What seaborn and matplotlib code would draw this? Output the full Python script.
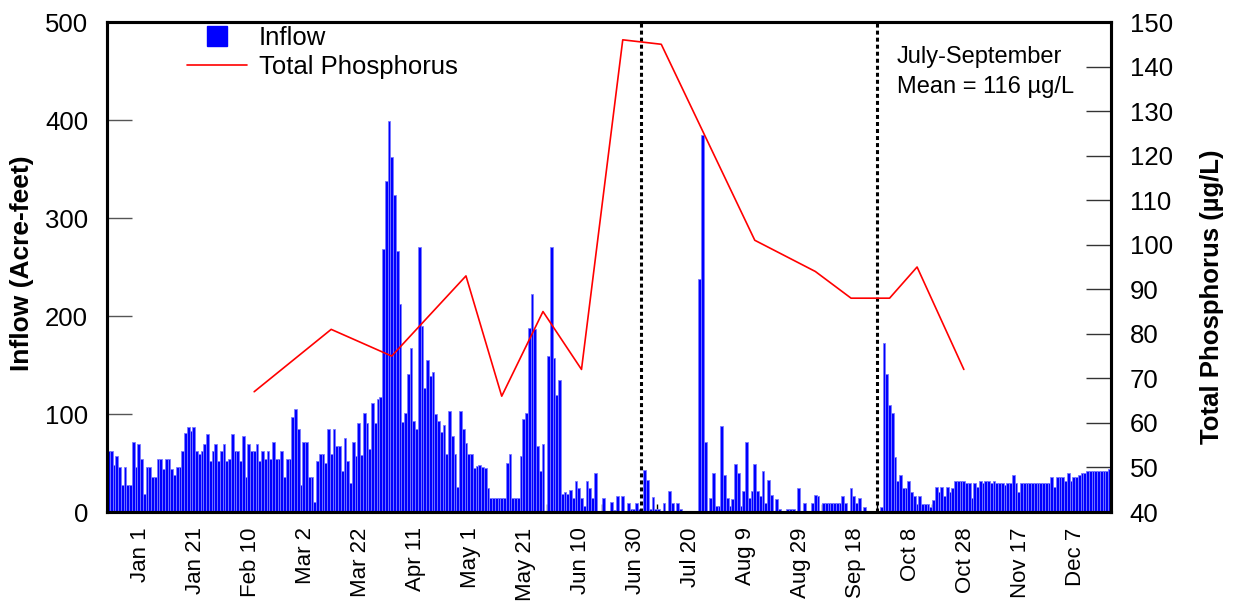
import numpy as np
import pandas as pd
import matplotlib
matplotlib.use("Agg")
import matplotlib.pyplot as plt
import seaborn as sns
from matplotlib.lines import Line2D
from matplotlib.ticker import FixedLocator, MultipleLocator

# Daily inflow (acre-feet), one value per day, grouped by season
inflow_winter = [
    62, 62, 48, 57, 46, 28, 46, 28, 28, 71, 46, 69, 54, 18, 46, 46, 36, 36, 54, 54,
    44, 54, 54, 44, 38, 46, 46, 62, 81, 87, 83, 87, 62, 59, 62, 69, 80, 52, 62, 69,
    52, 62, 69, 52, 54, 80, 62, 62, 52, 78, 36, 69, 62, 62, 69, 52, 62, 54, 62, 54,
    71, 54, 54, 62, 36, 54, 54, 97, 105, 85, 28, 71, 71, 36, 36, 10, 52, 59, 59, 50,
    85, 59, 85, 67, 67, 42, 76, 52, 30, 71, 57, 91,
]
inflow_spring_runoff = [
    58, 101, 91, 64, 111, 91, 115, 117,
    268, 338, 399, 362, 323, 266, 212, 92, 101, 141, 167, 93, 85, 270, 190, 127, 155, 139, 143,
    100, 93, 82, 89, 59, 103, 78, 59, 26, 103, 85, 70, 59,
    59, 45, 47, 48, 46, 45, 25,
]
inflow_early_summer = [
    14, 14, 14, 14, 14, 14,
    50, 59, 14, 14, 14,
    57, 95, 101, 188, 222, 187, 67, 42, 69, 0, 159, 270, 157, 119, 135,
    18, 20, 18, 22, 14, 32, 24, 14, 6, 32, 24, 14, 40, 0, 0, 14, 0, 0, 10, 2, 16,
    0, 16, 0, 9, 3, 3, 9, 3, 0,
]
inflow_summer = [
    43, 33, 3, 15, 3, 3, 1, 9, 0, 21, 9, 0, 9, 3, 0, 0, 0, 0, 0, 0,
    238, 385, 71, 0, 14, 40, 6, 6, 88, 38, 14, 6, 13, 49, 40, 6, 21, 71, 14, 21,
    49, 21, 16, 42, 9, 33, 17, 0, 13, 3, 1, 1, 3, 3, 3, 0,
    24, 0, 9, 0, 0, 9, 17, 16, 0, 9, 9, 9, 9, 9, 9, 9, 16, 9, 0, 24,
    16, 9, 14, 0, 5, 0, 0, 0, 0, 0, 5,
]
inflow_fall = [
    172, 141, 109, 101, 56, 32, 38, 24, 24, 32, 20, 16, 8, 16, 8, 8, 8, 5, 12,
    26, 20, 26, 16, 26, 20, 24, 32, 32, 32, 32, 30, 30, 14, 30, 26, 32, 30, 32, 32,
    30, 32, 30, 30, 30, 28, 30, 30, 38, 30, 20, 30,
    30, 30, 30, 30, 30, 30, 30, 30, 30, 30,
    36, 26, 36, 36, 36, 32, 40, 32, 36, 36, 38, 40, 40, 42, 42, 42, 42, 42, 42, 42, 42, 44,
]

# Total phosphorus samples: day of record and concentration (ug/L)
tp_day = [53, 81, 103, 130, 143, 158, 172, 187, 201, 235, 257, 270, 284, 294, 311]
tp_value = [67, 81, 75, 93, 66, 85, 72, 146, 145, 101, 94, 88, 88, 95, 72]

# July-September window boundaries (day of record)
season_bounds = [193.5, 279.5]

date_labels = ["Jan 1", "Jan 21", "Feb 10", "Mar 2", "Mar 22", "Apr 11", "May 1",
               "May 21", "Jun 10", "Jun 30", "Jul 20", "Aug 9", "Aug 29", "Sep 18",
               "Oct 8", "Oct 28", "Nov 17", "Dec 7"]

inflow = inflow_winter + inflow_spring_runoff + inflow_early_summer + inflow_summer + inflow_fall
days = np.arange(len(inflow))
flow_df = pd.DataFrame({"day": days, "inflow": inflow})
tp_df = pd.DataFrame({"day": tp_day, "tp": tp_value})

sns.set_theme(style="white")
plt.rcParams["font.family"] = ["Liberation Sans", "DejaVu Sans"]
plt.rcParams.update({"text.color": "black", "axes.labelcolor": "black",
                     "xtick.color": "black", "ytick.color": "black"})

W, H = 1233, 604
fig = plt.figure(figsize=(W / 100, H / 100), dpi=100)
L, R, T, B = 107, 1111, 22, 512
ax = fig.add_axes([L / W, 1 - B / H, (R - L) / W, (B - T) / H])

sns.barplot(data=flow_df, x="day", y="inflow", native_scale=True, width=1.0,
            color="#0000ff", saturation=1, edgecolor="#7a7aff", linewidth=0.6,
            errorbar=None, ax=ax)
ax.set_xlim(-0.5, len(inflow) - 0.5)
ax.set_ylim(0, 500)

for xb in season_bounds:
    ax.axvline(xb, color="black", lw=2.2, ls=(0, (1.3, 1.0)), zorder=5)

ax2 = ax.twinx()
sns.lineplot(data=tp_df, x="day", y="tp", color="#ff0000", lw=1.2, ax=ax2)
ax2.set_ylim(40, 150)

# Axis styling
for a in (ax, ax2):
    for s in a.spines.values():
        s.set_color("black")
        s.set_linewidth(2.2)
    a.set_xlabel("")
    a.set_ylabel("")

ax.yaxis.set_major_locator(MultipleLocator(100))
ax.tick_params(axis="y", direction="in", length=18, width=1, color="#555555",
               labelcolor="black", labelsize=18.5, pad=13.5, left=True)
ax2.yaxis.set_major_locator(MultipleLocator(10))
ax2.tick_params(axis="y", direction="in", length=18, width=1, color="#333333",
                labelcolor="black", labelsize=18.5, pad=13.5, right=True)

label_pos = [11.5 + 20 * k for k in range(len(date_labels))]
ax.xaxis.set_major_locator(FixedLocator(label_pos))
ax.set_xticklabels(date_labels, rotation=90, ha="center", va="top")
ax.xaxis.set_minor_locator(FixedLocator([19.5 + 20 * k for k in range(18)]))
ax.tick_params(axis="x", which="major", length=0, labelsize=16, labelcolor="black", pad=11)
ax.tick_params(axis="x", which="minor", direction="in", length=6, width=1,
               color="black", bottom=True)

fig.text(22 / W, 1 - 263 / H, "Inflow (Acre-feet)", rotation=90, ha="center",
         va="center", fontsize=19, fontweight="bold", color="black")
fig.text(1212 / W, 1 - 297 / H, "Total Phosphorus (\u00b5g/L)", rotation=90,
         ha="center", va="center", fontsize=18.5, fontweight="bold", color="black")

ax.text(897 / W, 1 - 57 / H, "July-September", transform=fig.transFigure,
        ha="left", va="center", fontsize=17, color="black")
ax.text(897 / W, 1 - 87 / H, "Mean = 116 \u00b5g/L", transform=fig.transFigure,
        ha="left", va="center", fontsize=17, color="black")

handles = [
    Line2D([], [], marker="s", ls="none", color="#0000ff", markersize=14.4),
    Line2D([], [], color="#ff0000", lw=1.2),
]
leg = ax.legend(handles, ["Inflow", "Total Phosphorus"], loc="upper left",
                bbox_to_anchor=((187 - L) / (R - L), 1 - 4 / (B - T)),
                frameon=False, fontsize=18.5, handlelength=2.33, handletextpad=0.47,
                labelspacing=0.2, borderpad=0, borderaxespad=0)
for txt in leg.get_texts():
    txt.set_color("black")
leg.set_zorder(10)

fig.savefig("out.png", dpi=100)
